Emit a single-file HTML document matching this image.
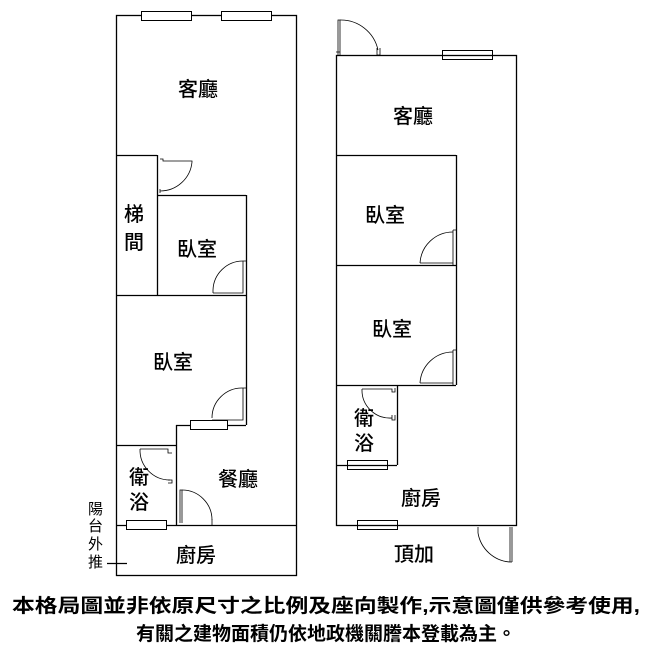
<!DOCTYPE html>
<html><head><meta charset="utf-8"><style>
html,body{margin:0;padding:0;background:#fff;}
svg text{font-family:"Liberation Sans","Noto Sans CJK TC",sans-serif;fill:#000;}
</style></head><body>
<svg width="653" height="655" viewBox="0 0 653 655" xmlns="http://www.w3.org/2000/svg">
<g stroke="#000" stroke-width="1.3" fill="none">
<rect x="116.5" y="15.5" width="180" height="560"/>
<line x1="116" y1="155.5" x2="157" y2="155.5"/>
<line x1="157.5" y1="155" x2="157.5" y2="295"/>
<line x1="157" y1="195.5" x2="246" y2="195.5"/>
<line x1="246.5" y1="195" x2="246.5" y2="425"/>
<line x1="116" y1="295.5" x2="246" y2="295.5"/>
<line x1="176" y1="425.5" x2="246" y2="425.5"/>
<line x1="176.5" y1="425" x2="176.5" y2="525"/>
<line x1="116" y1="445.5" x2="176" y2="445.5"/>
<line x1="116" y1="525.5" x2="296" y2="525.5"/>
<line x1="107" y1="563.5" x2="127" y2="563.5"/>
</g>
<g stroke="#000" stroke-width="1" fill="#fff">
<rect x="141.5" y="11.5" width="50" height="9"/>
<rect x="221.5" y="11.5" width="50" height="9"/>
<rect x="190.5" y="420.5" width="37" height="9"/>
<rect x="126.5" y="520.5" width="40" height="9"/>
<rect x="442.5" y="50.5" width="50" height="9"/>
<rect x="347.5" y="460.5" width="40" height="9"/>
<rect x="357.5" y="520.5" width="40" height="9"/>
</g>
<g stroke="#000" stroke-width="0.8" fill="none">
<path d="M160 159 H163 V161 H192 V162"/><path d="M192 162 A32 32 0 0 1 160 191"/><path d="M160 189 V193"/>
<path d="M243 261 H246 M243 261 V293 H213 M213 290 V293"/><path d="M243 261 A30 30 0 0 0 213 290"/>
<path d="M243 388 H246 M243 388 V420 H212"/><path d="M243 388 A30 30 0 0 0 212 418"/>
<path d="M140 449 H168 V453 H172 M168 449 V451"/><path d="M140 449 A30 30 0 0 0 170 480"/><path d="M168 480 H172 V483 H168"/>
<path d="M180 523 V490 H182 V523"/><path d="M182 490 A30 30 0 0 1 212 520"/><path d="M212 519 V525"/>
<path d="M338 55 V20 H340 V55 M336 52 H340"/><path d="M340 20 A38 38 0 0 1 378 50"/><path d="M377 48 V55 H380 V48"/>
<path d="M453 230 V263 H420 M453 230 H456 M453 260 V265"/><path d="M453 232 A33 33 0 0 0 420 263"/>
<path d="M453 350 V383 H420 M453 350 H456 M453 380 V385"/><path d="M453 352 A33 33 0 0 0 420 383"/>
<path d="M362 389 H392 V392 H395 V388 M392 389"/><path d="M362 389 A28 28 0 0 0 392 418"/><path d="M392 415 V420 H395 V415"/>
<path d="M510 527 V562 M512 527 V562 M510 562 H512 M478 527 V533"/><path d="M478 533 A35 35 0 0 0 510 562"/>
</g>
<g stroke="#000" stroke-width="1.3" fill="none">
<rect x="336.5" y="55.5" width="180" height="470"/>
<line x1="336" y1="155.5" x2="456" y2="155.5"/>
<line x1="456.5" y1="155" x2="456.5" y2="385"/>
<line x1="336" y1="265.5" x2="456" y2="265.5"/>
<line x1="336" y1="385.5" x2="456" y2="385.5"/>
<line x1="397.5" y1="385" x2="397.5" y2="465"/>
<line x1="336" y1="465.5" x2="397" y2="465.5"/>
</g>
<g font-size="20" font-weight="500">
<text x="178" y="96">客廳</text>
<text x="124" y="221">梯</text>
<text x="124" y="249">間</text>
<text x="177" y="256">臥室</text>
<text x="153" y="369">臥室</text>
<text x="129" y="484">衛</text>
<text x="129" y="509">浴</text>
<text x="218" y="486">餐廳</text>
<text x="176" y="562">廚房</text>
<text x="393" y="123">客廳</text>
<text x="365" y="222">臥室</text>
<text x="372" y="336">臥室</text>
<text x="354" y="425">衛</text>
<text x="354" y="450">浴</text>
<text x="401" y="505">廚房</text>
<text x="394" y="561">頂加</text>
</g>
<g font-size="15">
<text x="88" y="514">陽</text>
<text x="88" y="531">台</text>
<text x="88" y="549">外</text>
<text x="88" y="567">推</text>
</g>
<g font-size="19" font-weight="bold" text-anchor="middle">
<text x="326" y="612" textLength="628" lengthAdjust="spacingAndGlyphs">本格局圖並非依原尺寸之比例及座向製作,示意圖僅供參考使用,</text>
<text x="326" y="640">有關之建物面積仍依地政機關謄本登載為主。</text>
</g>
</svg>
</body></html>
